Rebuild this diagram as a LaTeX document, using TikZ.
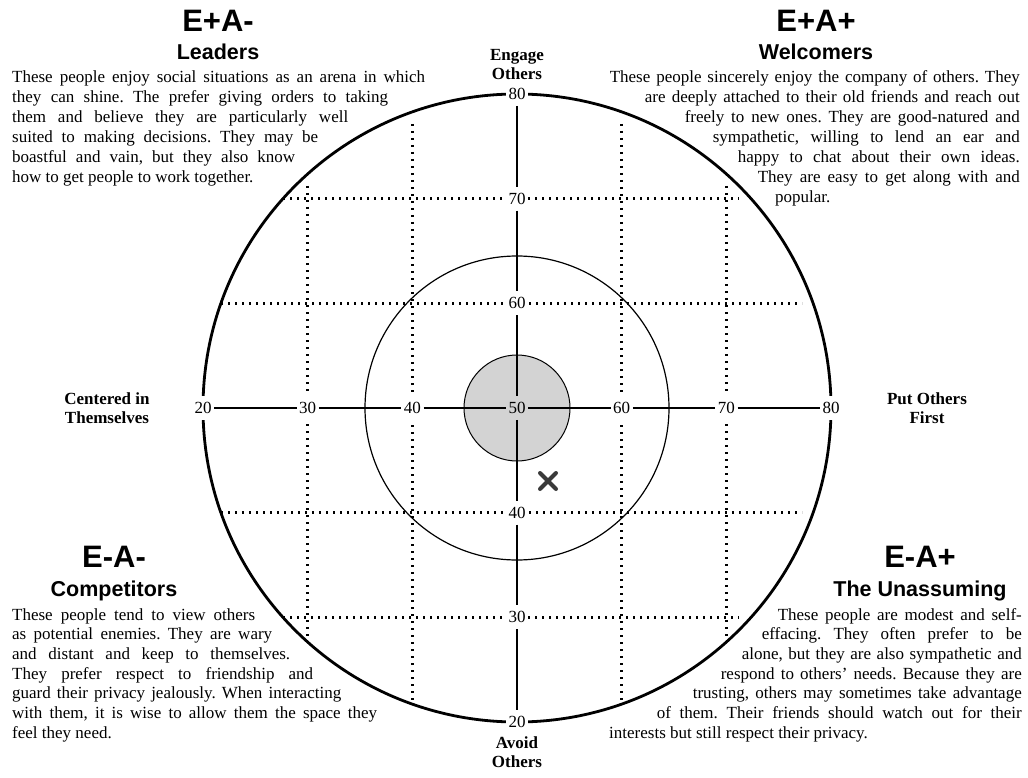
\documentclass[tikz,border=0pt]{standalone}
\usepackage{fontspec}
\setmainfont{Liberation Serif}
\newfontfamily\headfont{Liberation Sans}
\definecolor{disc}{RGB}{211,211,211}
\definecolor{markc}{RGB}{58,58,58}
\frenchspacing
\begin{document}
\begin{tikzpicture}[x=1pt,y=-1pt,
  bodyline/.style={font=\fontsize{17}{20}\selectfont, inner sep=0pt},
  headA/.style={font=\headfont\bfseries\fontsize{31}{36}\selectfont, inner sep=0pt, anchor=base},
  headB/.style={font=\headfont\bfseries\fontsize{21.5}{25}\selectfont, inner sep=0pt, anchor=base},
  tick/.style={font=\fontsize{17}{20}\selectfont, fill=white, inner xsep=2.5pt, inner ysep=6pt},
  axislab/.style={font=\bfseries\fontsize{17}{19.5}\selectfont, align=center, inner sep=0pt},
  heavy/.style={line width=2.8pt},
  dots/.style={line width=2.5pt, dash pattern=on 2.2pt off 4.8pt}
]
\useasboundingbox (0,0) rectangle (1028,778);

% dotted grid
\draw[dots] (283,198.7) -- (739,198.7);
\draw[dots] (221,303.3) -- (802,303.3);
\draw[dots] (221,512.7) -- (802,512.7);
\draw[dots] (283,617.3) -- (739,617.3);
\draw[dots] (307.7,186) -- (307.7,642);
\draw[dots] (412.3,124) -- (412.3,704);
\draw[dots] (621.7,124) -- (621.7,704);
\draw[dots] (726.3,186) -- (726.3,642);

% circles
\draw[heavy] (517,408) circle[radius=314];
\draw[line width=1.2pt] (517,408) circle[radius=152];
\draw[line width=1pt, fill=disc] (517,408) circle[radius=53];

% tick labels
\node[tick] (h20) at (203,408) {20};
\node[tick] (h30) at (307.7,408) {30};
\node[tick] (h40) at (412.3,408) {40};
\node[tick, fill=disc] (c50) at (517,408) {50};
\node[tick] (h60) at (621.7,408) {60};
\node[tick] (h70) at (726.3,408) {70};
\node[tick] (h80) at (831,408) {80};
\node[tick] (v80) at (517,94) {80};
\node[tick] (v70) at (517,198.7) {70};
\node[tick] (v60) at (517,303.3) {60};
\node[tick] (v40) at (517,512.7) {40};
\node[tick] (v30) at (517,617.3) {30};
\node[tick] (v20) at (517,722) {20};

% axes
\draw[heavy] (h20) -- (h30) (h30) -- (h40) (h40) -- (c50) (c50) -- (h60) (h60) -- (h70) (h70) -- (h80);
\draw[heavy] (v80) -- (v70) (v70) -- (v60) (v60) -- (c50) (c50) -- (v40) (v40) -- (v30) (v30) -- (v20);

% marker
\draw[markc, line width=4pt, line cap=round] (540,473) -- (556,489) (540,489) -- (556,473);

% axis labels
\node[axislab] (eng) at (517,64.5) {Engage\\Others};
\node[axislab] (avo) at (517,752) {Avoid\\Others};
\node[axislab] (cen) at (107,408) {Centered in\\Themselves};
\node[axislab] (put) at (927,408) {Put Others\\First};

% headings
\node[headA] (hLA) at (218,32) {E+A-};
\node[headB] (hLB) at (218,60) {Leaders};
\node[headA] (hWA) at (816,32) {E+A+};
\node[headB] (hWB) at (816,60) {Welcomers};
\node[headA] (hCA) at (114,567) {E-A-};
\node[headB] (hCB) at (114,596) {Competitors};
\node[headA] (hUA) at (920,567) {E-A+};
\node[headB] (hUB) at (920,596) {The Unassuming};

% Leaders text
\node[bodyline, anchor=base west] (L1) at (12,83) {\makebox[413pt][s]{These people enjoy social situations as an arena in which}};
\node[bodyline, anchor=base west] (L2) at (12,103) {\makebox[376pt][s]{they can shine. The prefer giving orders to taking}};
\node[bodyline, anchor=base west] (L3) at (12,123) {\makebox[336pt][s]{them and believe they are particularly well}};
\node[bodyline, anchor=base west] (L4) at (12,143) {\makebox[306pt][s]{suited to making decisions. They may be}};
\node[bodyline, anchor=base west] (L5) at (12,163) {\makebox[283pt][s]{boastful and vain, but they also know}};
\node[bodyline, anchor=base west] (L6) at (12,183) {how to get people to work together.};

% Welcomers text
\node[bodyline, anchor=base east] (W1) at (1020,83) {\makebox[410pt][s]{These people sincerely enjoy the company of others. They}};
\node[bodyline, anchor=base east] (W2) at (1020,103) {\makebox[375pt][s]{are deeply attached to their old friends and reach out}};
\node[bodyline, anchor=base east] (W3) at (1020,123) {\makebox[335pt][s]{freely to new ones. They are good-natured and}};
\node[bodyline, anchor=base east] (W4) at (1020,143) {\makebox[307pt][s]{sympathetic, willing to lend an ear and}};
\node[bodyline, anchor=base east] (W5) at (1020,163) {\makebox[282pt][s]{happy to chat about their own ideas.}};
\node[bodyline, anchor=base east] (W6) at (1020,183) {\makebox[262pt][s]{They are easy to get along with and}};
\node[bodyline, anchor=base west] (W7) at (775,203) {popular.};

% Competitors text
\node[bodyline, anchor=base west] (C1) at (12,620) {\makebox[243pt][s]{These people tend to view others}};
\node[bodyline, anchor=base west] (C2) at (12,639.7) {\makebox[260pt][s]{as potential enemies. They are wary}};
\node[bodyline, anchor=base west] (C3) at (12,659.4) {\makebox[278pt][s]{and distant and keep to themselves.}};
\node[bodyline, anchor=base west] (C4) at (12,679.1) {\makebox[301pt][s]{They prefer respect to friendship and}};
\node[bodyline, anchor=base west] (C5) at (12,698.8) {\makebox[329pt][s]{guard their privacy jealously. When interacting}};
\node[bodyline, anchor=base west] (C6) at (12,718.5) {\makebox[365pt][s]{with them, it is wise to allow them the space they}};
\node[bodyline, anchor=base west] (C7) at (12,738.2) {feel they need.};

% Unassuming text
\node[bodyline, anchor=base east] (U1) at (1022,620) {\makebox[244pt][s]{These people are modest and self-}};
\node[bodyline, anchor=base east] (U2) at (1022,639.7) {\makebox[260pt][s]{effacing. They often prefer to be}};
\node[bodyline, anchor=base east] (U3) at (1022,659.4) {\makebox[280pt][s]{alone, but they are also sympathetic and}};
\node[bodyline, anchor=base east] (U4) at (1022,679.1) {\makebox[301pt][s]{respond to others’ needs. Because they are}};
\node[bodyline, anchor=base east] (U5) at (1022,698.8) {\makebox[329pt][s]{trusting, others may sometimes take advantage}};
\node[bodyline, anchor=base east] (U6) at (1022,718.5) {\makebox[365pt][s]{of them. Their friends should watch out for their}};
\node[bodyline, anchor=base west] (U7) at (609,738.2) {interests but still respect their privacy.};
\end{tikzpicture}
\end{document}
